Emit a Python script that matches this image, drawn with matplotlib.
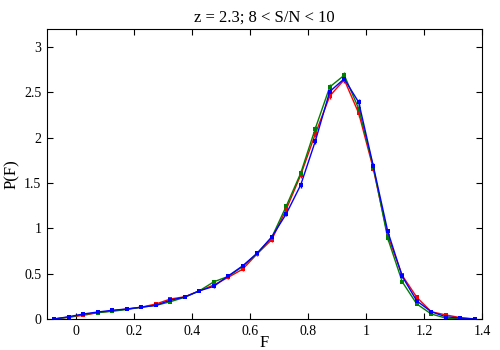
import matplotlib
matplotlib.use("Agg")
import matplotlib.pyplot as plt
from matplotlib.ticker import FuncFormatter

plt.rcParams['font.family'] = ['Liberation Serif', 'DejaVu Serif']

F = [-0.075, -0.025, 0.025, 0.075, 0.125, 0.175, 0.225, 0.275, 0.325, 0.375,
     0.425, 0.475, 0.525, 0.575, 0.625, 0.675, 0.725, 0.775, 0.825, 0.875,
     0.925, 0.975, 1.025, 1.075, 1.125, 1.175, 1.225, 1.275, 1.325, 1.375]

p_red = [0.0, 0.02, 0.04, 0.07, 0.09, 0.11, 0.13, 0.165, 0.22, 0.245,
         0.31, 0.375, 0.46, 0.55, 0.72, 0.875, 1.21, 1.59, 2.04, 2.46,
         2.64, 2.27, 1.66, 0.92, 0.48, 0.24, 0.08, 0.045, 0.015, 0.0]
p_green = [0.0, 0.02, 0.05, 0.07, 0.085, 0.105, 0.13, 0.15, 0.19, 0.24,
           0.31, 0.41, 0.47, 0.58, 0.725, 0.9, 1.245, 1.61, 2.10, 2.56,
           2.69, 2.32, 1.68, 0.89, 0.41, 0.166, 0.055, 0.01, 0.0, 0.0]
p_blue = [0.0, 0.025, 0.055, 0.077, 0.096, 0.11, 0.13, 0.15, 0.207, 0.243,
          0.31, 0.36, 0.475, 0.587, 0.727, 0.905, 1.16, 1.48, 1.96, 2.51,
          2.65, 2.39, 1.69, 0.967, 0.47, 0.20, 0.08, 0.025, 0.01, 0.0]

e_red = [0.003, 0.004, 0.005, 0.006, 0.006, 0.007, 0.008, 0.009, 0.01, 0.011,
         0.012, 0.014, 0.016, 0.018, 0.02, 0.022, 0.026, 0.03, 0.034, 0.038,
         0.04, 0.038, 0.032, 0.024, 0.016, 0.011, 0.006, 0.004, 0.002, 0.001]
e_green = e_red
e_blue = e_red

fig = plt.figure(figsize=(5, 3.5), dpi=100)
ax = fig.add_axes([0.094, 0.0886, 0.87, 0.8286])

for y, e, c in [(p_red, e_red, '#ff0000'), (p_green, e_green, '#007f00'), (p_blue, e_blue, '#0000ff')]:
    ax.errorbar(F, y, yerr=e, color=c, lw=1.0, capsize=2, capthick=1.0,
                elinewidth=1.0, marker='s', ms=2.5, mew=0)

ax.set_xlim(-0.1, 1.4)
ax.set_ylim(0, 3.2)
ax.set_xticks([0, 0.2, 0.4, 0.6, 0.8, 1.0, 1.2, 1.4])
ax.set_yticks([0, 0.5, 1, 1.5, 2, 2.5, 3])
fmt = FuncFormatter(lambda v, p: '%g' % v)
ax.xaxis.set_major_formatter(fmt)
ax.yaxis.set_major_formatter(fmt)
ax.tick_params(direction='in', top=True, right=True, length=4, width=0.8, labelsize=10, pad=4)
for s in ax.spines.values():
    s.set_linewidth(0.8)
ax.set_xlabel('F', fontsize=12, labelpad=-2)
ax.set_ylabel('P(F)', fontsize=12, labelpad=3)
ax.set_title('z = 2.3; 8 < S/N < 10', fontsize=12, pad=5)

fig.savefig('out.png', dpi=100)
